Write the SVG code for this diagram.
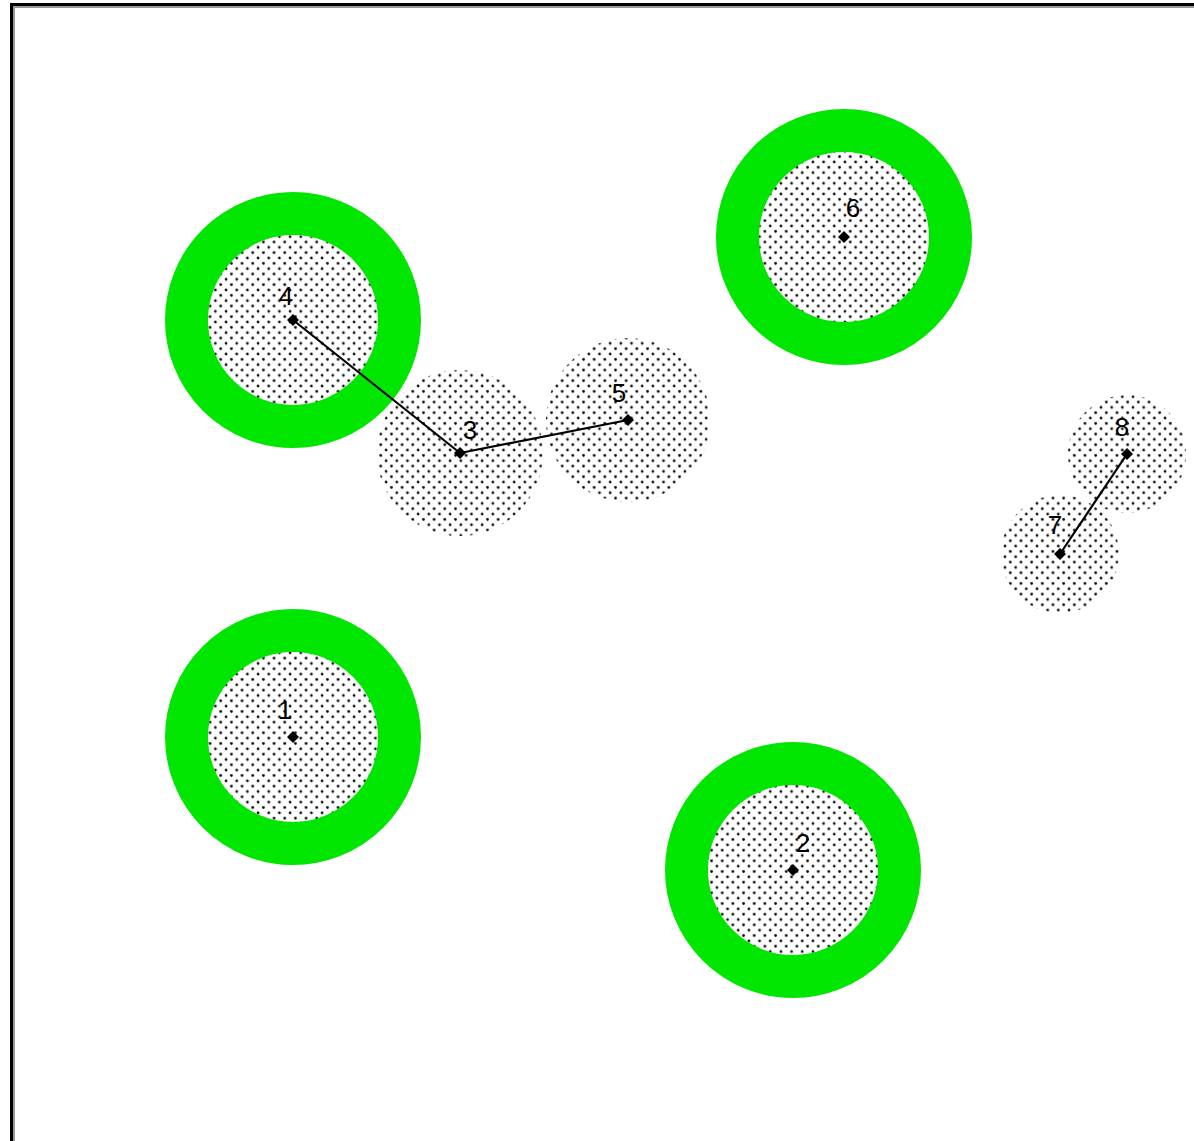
<svg xmlns="http://www.w3.org/2000/svg" width="1194" height="1141" viewBox="0 0 1194 1141">
<defs>
<pattern id="dots" x="0" y="0" width="10.67" height="10.67" patternUnits="userSpaceOnUse">
<circle cx="2" cy="2" r="1.4" fill="#111"/>
<circle cx="7.33" cy="7.33" r="1.4" fill="#111"/>
</pattern>
<polygon id="ctr" points="0,-6 6,0 0,6 -6,0" fill="#000"/>
</defs>
<style>
.fill{fill:url(#dots);stroke:none}
.ring{fill:none;stroke:#00e600;stroke-width:43}
.edge{stroke:#000;stroke-width:2.2;fill:none}
.lbl{font-family:"Liberation Sans",Arial,sans-serif;font-size:26px;fill:#000;text-anchor:middle}
</style>
<rect x="0" y="0" width="1194" height="1141" fill="#fff"/>
<g id="border">
<line x1="11.5" y1="3" x2="11.5" y2="1141" stroke="#000" stroke-width="3"/>
<line x1="10" y1="4.5" x2="1194" y2="4.5" stroke="#000" stroke-width="3"/>
<line x1="14" y1="6" x2="14" y2="1141" stroke="#999" stroke-width="2"/>
<line x1="13" y1="7" x2="1194" y2="7" stroke="#999" stroke-width="2"/>
</g>
<g id="fills">
<circle class="fill" cx="460" cy="453" r="83"/>
<circle class="fill" cx="628" cy="420" r="82"/>
<circle class="fill" cx="1127" cy="454" r="59"/>
<circle class="fill" cx="1060" cy="554" r="59"/>
<circle class="fill" cx="293" cy="320" r="110"/>
<circle class="fill" cx="844" cy="237" r="110"/>
<circle class="fill" cx="293" cy="737" r="110"/>
<circle class="fill" cx="793" cy="870" r="110"/>
</g>
<g id="node4"><circle class="ring" cx="293" cy="320" r="106.5"/></g>
<g id="node6"><circle class="ring" cx="844" cy="237" r="106.5"/></g>
<g id="node1"><circle class="ring" cx="293" cy="737" r="106.5"/></g>
<g id="node2"><circle class="ring" cx="793" cy="870" r="106.5"/></g>
<g id="connectors">
<line class="edge" x1="293" y1="320" x2="460" y2="453"/>
<line class="edge" x1="460" y1="453" x2="628" y2="420"/>
<line class="edge" x1="1127" y1="454" x2="1060" y2="554"/>
</g>
<g id="centers">
<use href="#ctr" x="293" y="320"/>
<use href="#ctr" x="460" y="453"/>
<use href="#ctr" x="628" y="420"/>
<use href="#ctr" x="844" y="237"/>
<use href="#ctr" x="1127" y="454"/>
<use href="#ctr" x="1060" y="554"/>
<use href="#ctr" x="293" y="737"/>
<use href="#ctr" x="793" y="870"/>
</g>
<g id="labels">
<text class="lbl" x="286" y="305">4</text>
<text class="lbl" x="470" y="439">3</text>
<text class="lbl" x="619" y="402">5</text>
<text class="lbl" x="853" y="217">6</text>
<text class="lbl" x="1122" y="436">8</text>
<text class="lbl" x="1055" y="534">7</text>
<text class="lbl" x="285" y="719">1</text>
<text class="lbl" x="803" y="852">2</text>
</g>
</svg>
